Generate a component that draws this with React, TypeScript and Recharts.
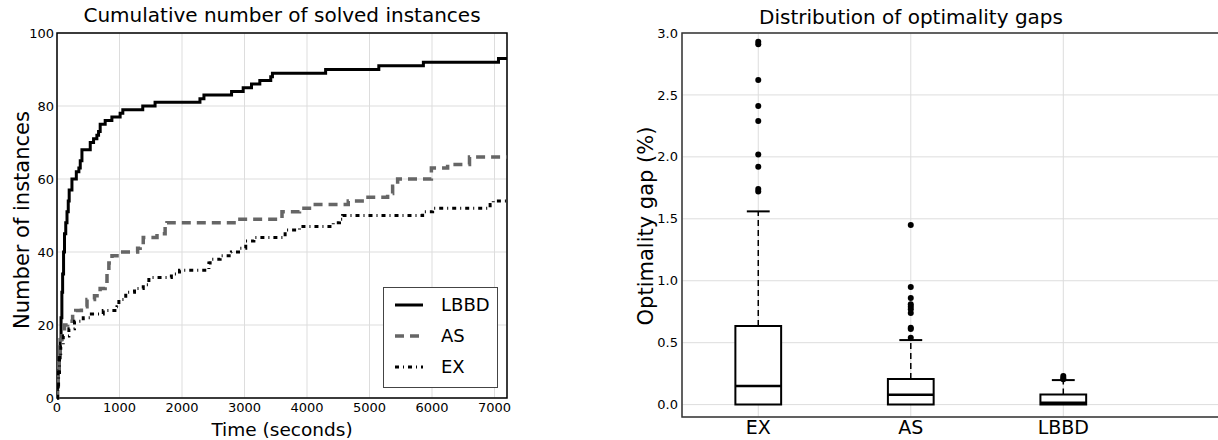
import {
  ComposedChart,
  LineChart,
  Line,
  XAxis,
  YAxis,
  CartesianGrid,
  ReferenceArea,
  ReferenceLine,
  Scatter,
} from "recharts";

const FONT = "'DejaVu Sans', sans-serif";

// ---- left chart: cumulative solved instances (time in s, count) ----
const TIME_TICKS = [0, 1000, 2000, 3000, 4000, 5000, 6000, 7000];
const COUNT_TICKS = [0, 20, 40, 60, 80, 100];

const LBBD_STEPS: [number, number][] = [
  [0, 0], [8, 3], [20, 7], [35, 11], [50, 16], [65, 22], [78, 29], [90, 34],
  [105, 40], [120, 45], [140, 48], [160, 51], [180, 54], [195, 57], [239, 60],
  [309, 62], [350, 63], [372, 65], [399, 68], [532, 70], [585, 71], [638, 72],
  [665, 73], [691, 75], [771, 76], [878, 77], [1010, 78], [1053, 79], [1372, 80],
  [1569, 81], [2287, 82], [2351, 83], [2793, 84], [2979, 85], [3112, 86],
  [3245, 87], [3420, 88], [3447, 89], [4298, 90], [5149, 91], [5862, 92],
  [7064, 93], [7200, 93],
];

const AS_STEPS: [number, number][] = [
  [0, 0], [10, 4], [20, 8], [30, 11], [45, 14], [60, 16], [80, 18], [120, 20],
  [170, 21], [250, 23], [300, 24], [390, 25], [480, 27], [600, 28], [690, 30],
  [770, 32], [800, 34], [830, 37], [880, 39], [960, 40], [1290, 41], [1330, 42],
  [1380, 44], [1600, 45], [1730, 47], [1760, 48], [2880, 49], [3600, 51],
  [3880, 52], [4090, 53], [4660, 54], [4940, 55], [5290, 56], [5370, 58],
  [5450, 60], [5990, 63], [6250, 64], [6600, 66], [7200, 66],
];

const EX_STEPS: [number, number][] = [
  [0, 0], [10, 3], [25, 7], [40, 11], [60, 14], [100, 17], [190, 19], [280, 21],
  [420, 22], [550, 23], [740, 24], [960, 25], [990, 27], [1100, 29], [1240, 30],
  [1380, 31], [1470, 33], [1830, 34], [1960, 35], [2430, 37], [2450, 38],
  [2610, 39], [2790, 40], [2930, 41], [3020, 43], [3150, 44], [3650, 46],
  [3880, 47], [4420, 48], [4520, 49], [4570, 50], [5850, 51], [6010, 52],
  [6930, 53], [6980, 54], [7200, 54],
];

// ---- right chart: optimality gap boxplots ----
const CATEGORIES = ["EX", "AS", "LBBD"];
const Q1 = [0, 0, 0];
const MEDIAN = [0.15, 0.08, 0.015];
const Q3 = [0.635, 0.207, 0.081];
const WHISKER_LOW = [0, 0, 0];
const WHISKER_HIGH = [1.56, 0.521, 0.198];
const OUTLIERS_EX = [1.72, 1.74, 1.92, 2.02, 2.29, 2.41, 2.62, 2.91, 2.93];
const OUTLIERS_AS = [0.54, 0.61, 0.62, 0.74, 0.77, 0.79, 0.81, 0.86, 0.95, 1.45];
const OUTLIERS_LBBD = [0.205, 0.215, 0.23];
const GAP_TICKS = [0, 0.5, 1, 1.5, 2, 2.5, 3];

const toRows = (steps: [number, number][]) => steps.map(([t, n]) => ({ t, n }));

const series = [
  { name: "LBBD", data: toRows(LBBD_STEPS), color: "#000", width: 3, dash: undefined },
  { name: "AS", data: toRows(AS_STEPS), color: "#666", width: 3.5, dash: "9 6" },
  { name: "EX", data: toRows(EX_STEPS), color: "#000", width: 3, dash: "4 4 1 4" },
];

const outlierRows = [OUTLIERS_EX, OUTLIERS_AS, OUTLIERS_LBBD].flatMap((vals, i) =>
  vals.map((y) => ({ x: i + 1, y }))
);

const GRID = "#dddddd";
const GAP_XMAX = 4.093;

function LegendBox() {
  return (
    <div
      style={{
        position: "absolute",
        left: 383,
        top: 287,
        width: 115,
        height: 101,
        boxSizing: "border-box",
        border: "1.5px solid #444",
        background: "#fff",
        fontFamily: FONT,
      }}
    >
      <svg width={112} height={98} style={{ display: "block" }}>
        {series.map((s, i) => (
          <g key={s.name}>
            <line
              x1={11}
              x2={39}
              y1={17 + i * 31}
              y2={17 + i * 31}
              stroke={s.color}
              strokeWidth={s.width}
              strokeDasharray={s.dash}
            />
            <text x={57} y={17 + i * 31} dy="0.36em" fontSize={18} fill="#000">
              {s.name}
            </text>
          </g>
        ))}
      </svg>
    </div>
  );
}

function SolvedChart() {
  return (
    <div style={{ position: "absolute", left: 0, top: 0, width: 610, height: 440 }}>
      <LineChart
        width={610}
        height={440}
        margin={{ top: 33, right: 103, bottom: 0, left: 0 }}
        style={{ fontFamily: FONT }}
      >
        <CartesianGrid stroke={GRID} />
        <XAxis
          type="number"
          dataKey="t"
          domain={[0, 7200]}
          ticks={TIME_TICKS}
          allowDataOverflow
          height={42}
          tickLine={false}
          axisLine={false}
          tickSize={0}
          tickMargin={5}
          tick={{ fontSize: 13, fill: "#000" }}
        />
        <YAxis
          type="number"
          domain={[0, 100]}
          ticks={COUNT_TICKS}
          width={57}
          tickLine={false}
          axisLine={false}
          tickSize={0}
          tickMargin={3}
          tick={{ fontSize: 13, fill: "#000" }}
        />
        {series.map((s) => (
          <Line
            key={s.name}
            data={s.data}
            dataKey="n"
            name={s.name}
            type="stepAfter"
            stroke={s.color}
            strokeWidth={s.width}
            strokeDasharray={s.dash}
            dot={false}
            activeDot={false}
            isAnimationActive={false}
          />
        ))}
        <ReferenceArea
          x1={0}
          x2={7200}
          y1={0}
          y2={100}
          fill="none"
          stroke="#000"
          strokeWidth={1.5}
          ifOverflow="visible"
        />
      </LineChart>
      <LegendBox />
      <div
        style={{
          position: "absolute",
          left: 57,
          width: 450,
          top: 3,
          textAlign: "center",
          fontSize: 20,
          fontFamily: FONT,
        }}
      >
        Cumulative number of solved instances
      </div>
      <div
        style={{
          position: "absolute",
          left: 282,
          top: 429,
          transform: "translate(-50%, -50%)",
          whiteSpace: "nowrap",
          fontSize: 18.5,
          fontFamily: FONT,
        }}
      >
        Time (seconds)
      </div>
      <div
        style={{
          position: "absolute",
          left: 22,
          top: 220,
          transform: "translate(-50%, -50%) rotate(-90deg)",
          whiteSpace: "nowrap",
          fontSize: 21,
          fontFamily: FONT,
        }}
      >
        Number of instances
      </div>
    </div>
  );
}

function GapChart() {
  return (
    <div style={{ position: "absolute", left: 610, top: 0, width: 620, height: 440 }}>
      <ComposedChart
        width={620}
        height={440}
        margin={{ top: 33, right: 0, bottom: 0, left: 0 }}
        style={{ fontFamily: FONT }}
      >
        <CartesianGrid stroke={GRID} />
        <XAxis
          type="number"
          dataKey="x"
          domain={[0.5, GAP_XMAX]}
          ticks={[1, 2, 3]}
          tickFormatter={(v: number) => CATEGORIES[v - 1]}
          allowDataOverflow
          height={23}
          tickLine={false}
          axisLine={false}
          tickSize={0}
          tickMargin={4}
          tick={{ fontSize: 19, fill: "#000" }}
        />
        <YAxis
          type="number"
          dataKey="y"
          domain={[-0.1, 3]}
          ticks={GAP_TICKS}
          allowDataOverflow
          tickFormatter={(v: number) => v.toFixed(1)}
          width={72}
          tickLine={false}
          axisLine={false}
          tickSize={0}
          tickMargin={4}
          tick={{ fontSize: 13, fill: "#000" }}
        />
        <ReferenceArea
          x1={0.5}
          x2={GAP_XMAX}
          y1={-0.1}
          y2={3}
          fill="none"
          stroke="#333"
          strokeWidth={1.5}
          ifOverflow="visible"
        />
        {CATEGORIES.map((c, i) => {
          const p = i + 1;
          return (
            <g key={c}>
              <ReferenceLine
                segment={[{ x: p, y: Q3[i] }, { x: p, y: WHISKER_HIGH[i] }]}
                stroke="#000"
                strokeWidth={1.5}
                strokeDasharray="6 4"
              />
              <ReferenceLine
                segment={[{ x: p, y: WHISKER_LOW[i] }, { x: p, y: Q1[i] }]}
                stroke="#000"
                strokeWidth={1.5}
                strokeDasharray="6 4"
              />
              <ReferenceLine
                segment={[{ x: p - 0.075, y: WHISKER_HIGH[i] }, { x: p + 0.075, y: WHISKER_HIGH[i] }]}
                stroke="#000"
                strokeWidth={2}
              />
              <ReferenceArea
                x1={p - 0.15}
                x2={p + 0.15}
                y1={Q1[i]}
                y2={Q3[i]}
                fill="#fff"
                fillOpacity={1}
                stroke="#000"
                strokeWidth={2}
              />
              <ReferenceLine
                segment={[{ x: p - 0.15, y: MEDIAN[i] }, { x: p + 0.15, y: MEDIAN[i] }]}
                stroke="#000"
                strokeWidth={2.5}
              />
            </g>
          );
        })}
        <Scatter
          data={outlierRows}
          dataKey="y"
          isAnimationActive={false}
          shape={(props: any) => <circle cx={props.cx} cy={props.cy} r={3} fill="#000" />}
        />
      </ComposedChart>
      <div
        style={{
          position: "absolute",
          left: 301,
          top: 17,
          transform: "translate(-50%, -50%)",
          whiteSpace: "nowrap",
          fontSize: 20,
          fontFamily: FONT,
        }}
      >
        Distribution of optimality gaps
      </div>
      <div
        style={{
          position: "absolute",
          left: 36,
          top: 226,
          transform: "translate(-50%, -50%) rotate(-90deg)",
          whiteSpace: "nowrap",
          fontSize: 21,
          fontFamily: FONT,
        }}
      >
        Optimality gap (%)
      </div>
    </div>
  );
}

export default function App() {
  return (
    <div
      style={{
        position: "absolute",
        left: 0,
        top: 0,
        width: 1218,
        height: 440,
        overflow: "hidden",
        background: "#fff",
      }}
    >
      <SolvedChart />
      <GapChart />
    </div>
  );
}
